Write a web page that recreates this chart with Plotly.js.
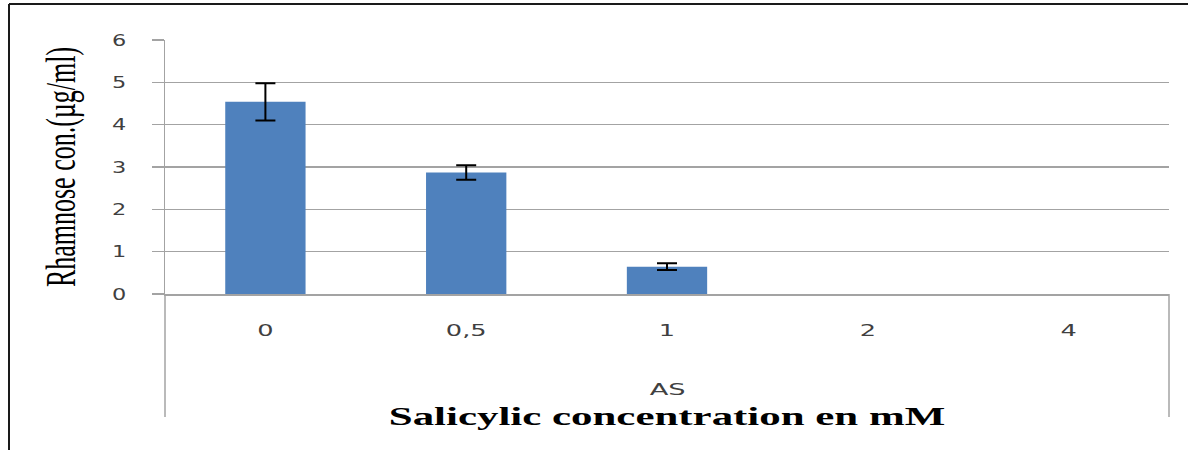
<!DOCTYPE html>
<html>
<head>
<meta charset="utf-8">
<script src="https://cdn.plot.ly/plotly-3.0.1.min.js"></script>
<style>
  html, body { margin: 0; padding: 0; background: #ffffff; }
  #chart { width: 1188px; height: 450px; }
</style>
</head>
<body>
<div id="chart"></div>
<script>
// Data
const categories = ["0", "0,5", "1", "2", "4"];
const rhamnose = [4.54, 2.87, 0.645, 0, 0];
const errorValues = [0.44, 0.17, 0.08, NaN, NaN];
const yTicks = [0, 1, 2, 3, 4, 5, 6];
const groupLabel = "AS";
const xTitle = "Salicylic concentration en mM";
const yTitle = "Rhamnose con.(µg/ml)";

const gridColor = "#a3a3a3";
const W = 1188, H = 450;
const M = { l: 165, r: 19, t: 40, b: 156 };
const pw = W - M.l - M.r, ph = H - M.t - M.b;
function px2paperX(px) { return (px - M.l) / pw; }
function px2paperY(py) { return (H - M.b - py) / ph; }

const trace = {
  type: "bar",
  x: categories,
  y: rhamnose,
  marker: { color: "#4F81BD", line: { width: 0 } },
  error_y: {
    type: "data",
    array: errorValues,
    visible: true,
    color: "#000000",
    thickness: 2,
    width: 10
  },
  hoverinfo: "none"
};

const tickFont = { family: "DejaVu Sans, Verdana, sans-serif", size: 16, color: "#404040" };

const layout = {
  width: W,
  height: H,
  margin: M,
  paper_bgcolor: "#ffffff",
  plot_bgcolor: "#ffffff",
  showlegend: false,
  bargap: 0.6,
  xaxis: {
    type: "category",
    categoryorder: "array",
    categoryarray: categories,
    range: [-0.5, 4.5],
    showline: true,
    linecolor: gridColor,
    linewidth: 1.5,
    ticks: "",
    showgrid: false,
    zeroline: false,
    ticklabelstandoff: 21,
    tickfont: tickFont,
    title: {
      text: xTitle,
      standoff: 68,
      font: { family: "Liberation Serif, Times New Roman, serif", size: 26, color: "#000000", weight: "bold" }
    },
    automargin: false
  },
  yaxis: {
    range: [0, 6],
    tickvals: yTicks,
    ticktext: yTicks.map(String),
    showline: true,
    linecolor: gridColor,
    linewidth: 1.5,
    showgrid: true,
    gridcolor: gridColor,
    gridwidth: 1.5,
    zeroline: false,
    ticks: "outside",
    ticklen: 12,
    tickwidth: 1.5,
    tickcolor: gridColor,
    ticklabelstandoff: 22,
    tickfont: tickFont,
    title: {
      text: yTitle,
      standoff: 36,
      font: { family: "Liberation Serif, Times New Roman, serif", size: 26, color: "#000000" }
    },
    automargin: false
  },
  annotations: [
    {
      text: groupLabel,
      xref: "paper", yref: "paper",
      x: 0.5, y: px2paperY(389),
      xanchor: "center", yanchor: "middle",
      showarrow: false,
      font: tickFont
    }
  ],
  shapes: [
    { type: "line", xref: "paper", yref: "paper", x0: 0, x1: 0, y0: 0, y1: px2paperY(417),
      line: { color: gridColor, width: 1.5 } },
    { type: "line", xref: "paper", yref: "paper", x0: 1, x1: 1, y0: 0, y1: px2paperY(417),
      line: { color: gridColor, width: 1.5 } },
    { type: "line", xref: "paper", yref: "paper", x0: px2paperX(9), x1: px2paperX(1200), y0: px2paperY(4), y1: px2paperY(4),
      line: { color: "#1a1a1a", width: 2 } },
    { type: "line", xref: "paper", yref: "paper", x0: px2paperX(9), x1: px2paperX(9), y0: px2paperY(4), y1: px2paperY(460),
      line: { color: "#1a1a1a", width: 2 } }
  ]
};

// The reference picture is horizontally stretched; widen the text the same way.
function stretchText(nodes, factor) {
  nodes.forEach(function (el) {
    const w = el.getComputedTextLength();
    if (w > 0) {
      el.setAttribute("textLength", (w * factor).toFixed(2));
      el.setAttribute("lengthAdjust", "spacingAndGlyphs");
    }
  });
}

Plotly.newPlot("chart", [trace], layout, { staticPlot: true, displayModeBar: false }).then(function (gd) {
  stretchText(gd.querySelectorAll(".xtick text"), 1.6);
  stretchText(gd.querySelectorAll(".ytick text"), 1.4);
  stretchText(gd.querySelectorAll(".annotation-text"), 1.7);
  stretchText(gd.querySelectorAll(".g-xtitle text"), 1.65);
  // vertical title: widen across its glyphs (screen x direction)
  const yt = gd.querySelector(".g-ytitle text");
  if (yt) {
    const orig = yt.getAttribute("transform") || "";
    const r = yt.getBoundingClientRect();
    const cx = r.left + r.width / 2;
    const targetCx = 61.5;
    const s = 1.6;
    yt.setAttribute("transform",
      "translate(" + (targetCx - cx) + ",0) translate(" + cx + ",0) scale(" + s + ",1) translate(" + (-cx) + ",0) " + orig);
  }
});
</script>
</body>
</html>
